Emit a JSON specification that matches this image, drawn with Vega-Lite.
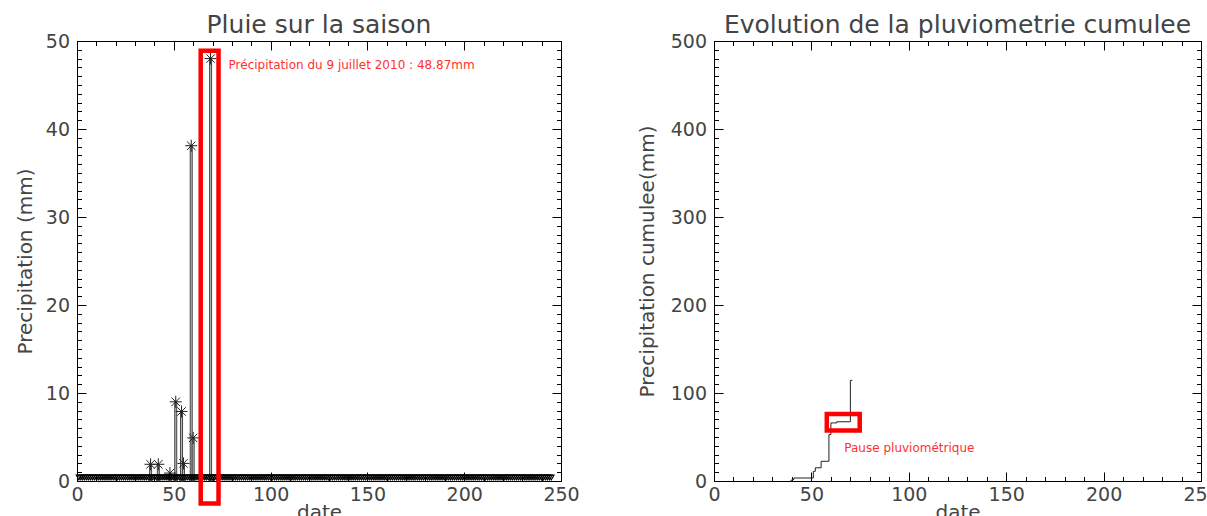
{
  "$schema": "https://vega.github.io/schema/vega-lite/v6.json",
  "background": "white",
  "padding": {"left": 14, "top": 12, "right": 0, "bottom": 0},
  "spacing": 153,
  "bounds": "flush",
  "config": {
    "view": {"stroke": "black", "strokeWidth": 1},
    "axis": {
      "domainColor": "black", "tickColor": "black", "tickWidth": 1, "grid": false,
      "minExtent": 0,
      "labelFont": "DejaVu Sans", "labelFontSize": 19, "labelColor": "#444",
      "labelFlush": false, "labelOverlap": false,
      "titleFont": "DejaVu Sans", "titleFontSize": 20, "titleFontWeight": "normal", "titleColor": "#444"
    },
    "title": {"font": "DejaVu Sans", "fontSize": 25, "fontWeight": "normal", "color": "#444", "offset": -26}
  },
  "datasets": {
    "pluie": [
      {"d":1,"p":0},{"d":2,"p":0},{"d":3,"p":0},{"d":4,"p":0},{"d":5,"p":0},{"d":6,"p":0},{"d":7,"p":0},{"d":8,"p":0},{"d":9,"p":0},{"d":10,"p":0},
      {"d":11,"p":0},{"d":12,"p":0},{"d":13,"p":0},{"d":14,"p":0},{"d":15,"p":0},{"d":16,"p":0},{"d":17,"p":0},{"d":18,"p":0},{"d":19,"p":0},{"d":20,"p":0},
      {"d":21,"p":0},{"d":22,"p":0},{"d":23,"p":0},{"d":24,"p":0},{"d":25,"p":0},{"d":26,"p":0},{"d":27,"p":0},{"d":28,"p":0},{"d":29,"p":0},{"d":30,"p":0},
      {"d":31,"p":0},{"d":32,"p":0},{"d":33,"p":0},{"d":34,"p":0},{"d":35,"p":0},{"d":36,"p":0},{"d":37,"p":0},{"d":38,"p":1.9},{"d":39,"p":0},{"d":40,"p":0},
      {"d":41,"p":0},{"d":42,"p":1.9},{"d":43,"p":0},{"d":44,"p":0},{"d":45,"p":0},{"d":46,"p":0},{"d":47,"p":0},{"d":48,"p":0.9},{"d":49,"p":0},{"d":50,"p":0},
      {"d":51,"p":9.0},{"d":52,"p":0},{"d":53,"p":0},{"d":54,"p":7.9},{"d":55,"p":2.0},{"d":56,"p":0},{"d":57,"p":0},{"d":58,"p":0},{"d":59,"p":38.1},{"d":60,"p":4.9},
      {"d":61,"p":0},{"d":62,"p":0},{"d":63,"p":0},{"d":64,"p":0},{"d":65,"p":0},{"d":66,"p":0},{"d":67,"p":0},{"d":68,"p":0},{"d":69,"p":48.0},{"d":70,"p":0},
      {"d":71,"p":0},{"d":72,"p":0},{"d":73,"p":0},{"d":74,"p":0},{"d":75,"p":0},{"d":76,"p":0},{"d":77,"p":0},{"d":78,"p":0},{"d":79,"p":0},{"d":80,"p":0},
      {"d":81,"p":0},{"d":82,"p":0},{"d":83,"p":0},{"d":84,"p":0},{"d":85,"p":0},{"d":86,"p":0},{"d":87,"p":0},{"d":88,"p":0},{"d":89,"p":0},{"d":90,"p":0},
      {"d":91,"p":0},{"d":92,"p":0},{"d":93,"p":0},{"d":94,"p":0},{"d":95,"p":0},{"d":96,"p":0},{"d":97,"p":0},{"d":98,"p":0},{"d":99,"p":0},{"d":100,"p":0},
      {"d":101,"p":0},{"d":102,"p":0},{"d":103,"p":0},{"d":104,"p":0},{"d":105,"p":0},{"d":106,"p":0},{"d":107,"p":0},{"d":108,"p":0},{"d":109,"p":0},{"d":110,"p":0},
      {"d":111,"p":0},{"d":112,"p":0},{"d":113,"p":0},{"d":114,"p":0},{"d":115,"p":0},{"d":116,"p":0},{"d":117,"p":0},{"d":118,"p":0},{"d":119,"p":0},{"d":120,"p":0},
      {"d":121,"p":0},{"d":122,"p":0},{"d":123,"p":0},{"d":124,"p":0},{"d":125,"p":0},{"d":126,"p":0},{"d":127,"p":0},{"d":128,"p":0},{"d":129,"p":0},{"d":130,"p":0},
      {"d":131,"p":0},{"d":132,"p":0},{"d":133,"p":0},{"d":134,"p":0},{"d":135,"p":0},{"d":136,"p":0},{"d":137,"p":0},{"d":138,"p":0},{"d":139,"p":0},{"d":140,"p":0},
      {"d":141,"p":0},{"d":142,"p":0},{"d":143,"p":0},{"d":144,"p":0},{"d":145,"p":0},{"d":146,"p":0},{"d":147,"p":0},{"d":148,"p":0},{"d":149,"p":0},{"d":150,"p":0},
      {"d":151,"p":0},{"d":152,"p":0},{"d":153,"p":0},{"d":154,"p":0},{"d":155,"p":0},{"d":156,"p":0},{"d":157,"p":0},{"d":158,"p":0},{"d":159,"p":0},{"d":160,"p":0},
      {"d":161,"p":0},{"d":162,"p":0},{"d":163,"p":0},{"d":164,"p":0},{"d":165,"p":0},{"d":166,"p":0},{"d":167,"p":0},{"d":168,"p":0},{"d":169,"p":0},{"d":170,"p":0},
      {"d":171,"p":0},{"d":172,"p":0},{"d":173,"p":0},{"d":174,"p":0},{"d":175,"p":0},{"d":176,"p":0},{"d":177,"p":0},{"d":178,"p":0},{"d":179,"p":0},{"d":180,"p":0},
      {"d":181,"p":0},{"d":182,"p":0},{"d":183,"p":0},{"d":184,"p":0},{"d":185,"p":0},{"d":186,"p":0},{"d":187,"p":0},{"d":188,"p":0},{"d":189,"p":0},{"d":190,"p":0},
      {"d":191,"p":0},{"d":192,"p":0},{"d":193,"p":0},{"d":194,"p":0},{"d":195,"p":0},{"d":196,"p":0},{"d":197,"p":0},{"d":198,"p":0},{"d":199,"p":0},{"d":200,"p":0},
      {"d":201,"p":0},{"d":202,"p":0},{"d":203,"p":0},{"d":204,"p":0},{"d":205,"p":0},{"d":206,"p":0},{"d":207,"p":0},{"d":208,"p":0},{"d":209,"p":0},{"d":210,"p":0},
      {"d":211,"p":0},{"d":212,"p":0},{"d":213,"p":0},{"d":214,"p":0},{"d":215,"p":0},{"d":216,"p":0},{"d":217,"p":0},{"d":218,"p":0},{"d":219,"p":0},{"d":220,"p":0},
      {"d":221,"p":0},{"d":222,"p":0},{"d":223,"p":0},{"d":224,"p":0},{"d":225,"p":0},{"d":226,"p":0},{"d":227,"p":0},{"d":228,"p":0},{"d":229,"p":0},{"d":230,"p":0},
      {"d":231,"p":0},{"d":232,"p":0},{"d":233,"p":0},{"d":234,"p":0},{"d":235,"p":0},{"d":236,"p":0},{"d":237,"p":0},{"d":238,"p":0},{"d":239,"p":0},{"d":240,"p":0},
      {"d":241,"p":0},{"d":242,"p":0},{"d":243,"p":0},{"d":244,"p":0},{"d":245,"p":0}
    ],
    "cumul": [
      {"d":39,"c":0},{"d":40,"c":1.7},{"d":41,"c":3.4},{"d":51,"c":11},{"d":52,"c":15},{"d":55,"c":22.4},
      {"d":59,"c":52.7},{"d":60,"c":66},{"d":63,"c":67.3},{"d":70,"c":114.3},{"d":71,"c":114.3}
    ]
  },
  "hconcat": [
    {
      "width": 484,
      "height": 440,
      "title": {"text": "Pluie sur la saison", "baseline": "alphabetic"},
      "layer": [
        {
          "data": {"name": "pluie"},
          "transform": [{"filter": "datum.p > 0"}],
          "mark": {"type": "bar", "width": 2, "fill": "#bbb", "stroke": "#444", "strokeWidth": 1},
          "encoding": {
            "x": {"field": "d", "type": "quantitative", "scale": {"domain": [0, 250], "nice": false, "zero": false, "padding": 0},
                  "axis": {"orient": "bottom", "values": [0, 50, 100, 150, 200, 250], "tickSize": -9, "labelPadding": 13.5, "title": "date", "titlePadding": -2}},
            "y": {"field": "p", "type": "quantitative", "stack": null, "scale": {"domain": [0, 50], "nice": false, "padding": 0},
                  "axis": {"orient": "left", "values": [0, 10, 20, 30, 40, 50], "tickSize": -9, "labelPadding": 16.5, "title": "Precipitation (mm)", "titlePadding": 10}}
          }
        },
        {
          "data": {"name": "pluie"},
          "transform": [{"filter": "datum.p > 0"}],
          "mark": {"type": "point", "shape": "M-1,0L1,0M0,-1L0,1M-0.7,-0.7L0.7,0.7M-0.7,0.7L0.7,-0.7", "size": 144, "filled": false, "stroke": "#222", "strokeWidth": 1, "opacity": 1},
          "encoding": {
            "x": {"field": "d", "type": "quantitative",
                  "axis": {"orient": "bottom", "values": [0,10,20,30,40,50,60,70,80,90,100,110,120,130,140,150,160,170,180,190,200,210,220,230,240,250], "tickSize": -4.5, "labels": false, "domain": false, "title": null}},
            "y": {"field": "p", "type": "quantitative",
                  "axis": {"orient": "left", "values": [0,1,2,3,4,5,6,7,8,9,10,11,12,13,14,15,16,17,18,19,20,21,22,23,24,25,26,27,28,29,30,31,32,33,34,35,36,37,38,39,40,41,42,43,44,45,46,47,48,49,50], "tickSize": -4.5, "labels": false, "domain": false, "title": null}}
          }
        },
        {
          "data": {"name": "pluie"},
          "mark": {"type": "point", "shape": "triangle-down", "size": 30, "filled": false, "stroke": "#000", "strokeWidth": 1.1, "opacity": 1, "yOffset": -3.5},
          "encoding": {
            "x": {"field": "d", "type": "quantitative",
                  "axis": {"orient": "top", "values": [0, 50, 100, 150, 200, 250], "tickSize": -9, "labels": false, "title": null}},
            "y": {"datum": 0, "type": "quantitative",
                  "axis": {"orient": "right", "values": [0, 10, 20, 30, 40, 50], "tickSize": -9, "labels": false, "title": null}}
          }
        },
        {
          "data": {"values": [{}]},
          "mark": {"type": "rect", "filled": false, "stroke": "#ff0000", "strokeWidth": 4.5},
          "encoding": {
            "x": {"datum": 63.9, "type": "quantitative",
                  "axis": {"orient": "top", "values": [0,10,20,30,40,50,60,70,80,90,100,110,120,130,140,150,160,170,180,190,200,210,220,230,240,250], "tickSize": -4.5, "labels": false, "domain": false, "title": null}},
            "x2": {"datum": 73.1},
            "y": {"datum": 48.9, "type": "quantitative",
                  "axis": {"orient": "right", "values": [0,1,2,3,4,5,6,7,8,9,10,11,12,13,14,15,16,17,18,19,20,21,22,23,24,25,26,27,28,29,30,31,32,33,34,35,36,37,38,39,40,41,42,43,44,45,46,47,48,49,50], "tickSize": -4.5, "labels": false, "domain": false, "title": null}},
            "y2": {"datum": -2.55}
          }
        },
        {
          "data": {"values": [{"t": "Précipitation du 9 juillet 2010 : 48.87mm"}]},
          "mark": {"type": "text", "align": "left", "baseline": "alphabetic", "font": "DejaVu Sans", "fontSize": 12, "color": "#ff3030"},
          "encoding": {
            "x": {"datum": 78.3, "type": "quantitative", "axis": null},
            "y": {"datum": 46.85, "type": "quantitative", "axis": null},
            "text": {"field": "t"}
          }
        }
      ],
      "resolve": {"axis": {"x": "independent", "y": "independent"}}
    },
    {
      "width": 487,
      "height": 440,
      "title": {"text": "Evolution de la pluviometrie cumulee", "baseline": "alphabetic"},
      "layer": [
        {
          "data": {"name": "cumul"},
          "mark": {"type": "line", "interpolate": "step-after", "color": "#222", "strokeWidth": 1},
          "encoding": {
            "x": {"field": "d", "type": "quantitative", "scale": {"domain": [0, 250], "nice": false, "zero": false, "padding": 0},
                  "axis": {"orient": "bottom", "values": [0, 50, 100, 150, 200, 250], "tickSize": -9, "labelPadding": 13.5, "title": "date", "titlePadding": -2}},
            "y": {"field": "c", "type": "quantitative", "scale": {"domain": [0, 500], "nice": false, "padding": 0},
                  "axis": {"orient": "left", "values": [0, 100, 200, 300, 400, 500], "tickSize": -9, "labelPadding": 16.5, "title": "Precipitation cumulee(mm)", "titlePadding": 13}}
          }
        },
        {
          "data": {"values": [{}]},
          "mark": {"type": "rect", "filled": false, "stroke": "#ff0000", "strokeWidth": 4.5},
          "encoding": {
            "x": {"datum": 57.9, "type": "quantitative",
                  "axis": {"orient": "bottom", "values": [0,10,20,30,40,50,60,70,80,90,100,110,120,130,140,150,160,170,180,190,200,210,220,230,240,250], "tickSize": -4.5, "labels": false, "domain": false, "title": null}},
            "x2": {"datum": 74.8},
            "y": {"datum": 76, "type": "quantitative",
                  "axis": {"orient": "left", "values": [0,10,20,30,40,50,60,70,80,90,100,110,120,130,140,150,160,170,180,190,200,210,220,230,240,250,260,270,280,290,300,310,320,330,340,350,360,370,380,390,400,410,420,430,440,450,460,470,480,490,500], "tickSize": -4.5, "labels": false, "domain": false, "title": null}},
            "y2": {"datum": 57.3}
          }
        },
        {
          "data": {"values": [{"t": "Pause pluviométrique"}]},
          "mark": {"type": "text", "align": "left", "baseline": "alphabetic", "font": "DejaVu Sans", "fontSize": 12, "color": "#ff3030"},
          "encoding": {
            "x": {"datum": 66.9, "type": "quantitative",
                  "axis": {"orient": "top", "values": [0, 50, 100, 150, 200, 250], "tickSize": -9, "labels": false, "title": null}},
            "y": {"datum": 33.4, "type": "quantitative",
                  "axis": {"orient": "right", "values": [0, 100, 200, 300, 400, 500], "tickSize": -9, "labels": false, "title": null}},
            "text": {"field": "t"}
          }
        },
        {
          "data": {"name": "cumul"},
          "mark": {"type": "point", "opacity": 0},
          "encoding": {
            "x": {"field": "d", "type": "quantitative",
                  "axis": {"orient": "top", "values": [0,10,20,30,40,50,60,70,80,90,100,110,120,130,140,150,160,170,180,190,200,210,220,230,240,250], "tickSize": -4.5, "labels": false, "domain": false, "title": null}},
            "y": {"field": "c", "type": "quantitative",
                  "axis": {"orient": "right", "values": [0,10,20,30,40,50,60,70,80,90,100,110,120,130,140,150,160,170,180,190,200,210,220,230,240,250,260,270,280,290,300,310,320,330,340,350,360,370,380,390,400,410,420,430,440,450,460,470,480,490,500], "tickSize": -4.5, "labels": false, "domain": false, "title": null}}
          }
        }
      ],
      "resolve": {"axis": {"x": "independent", "y": "independent"}}
    }
  ]
}
